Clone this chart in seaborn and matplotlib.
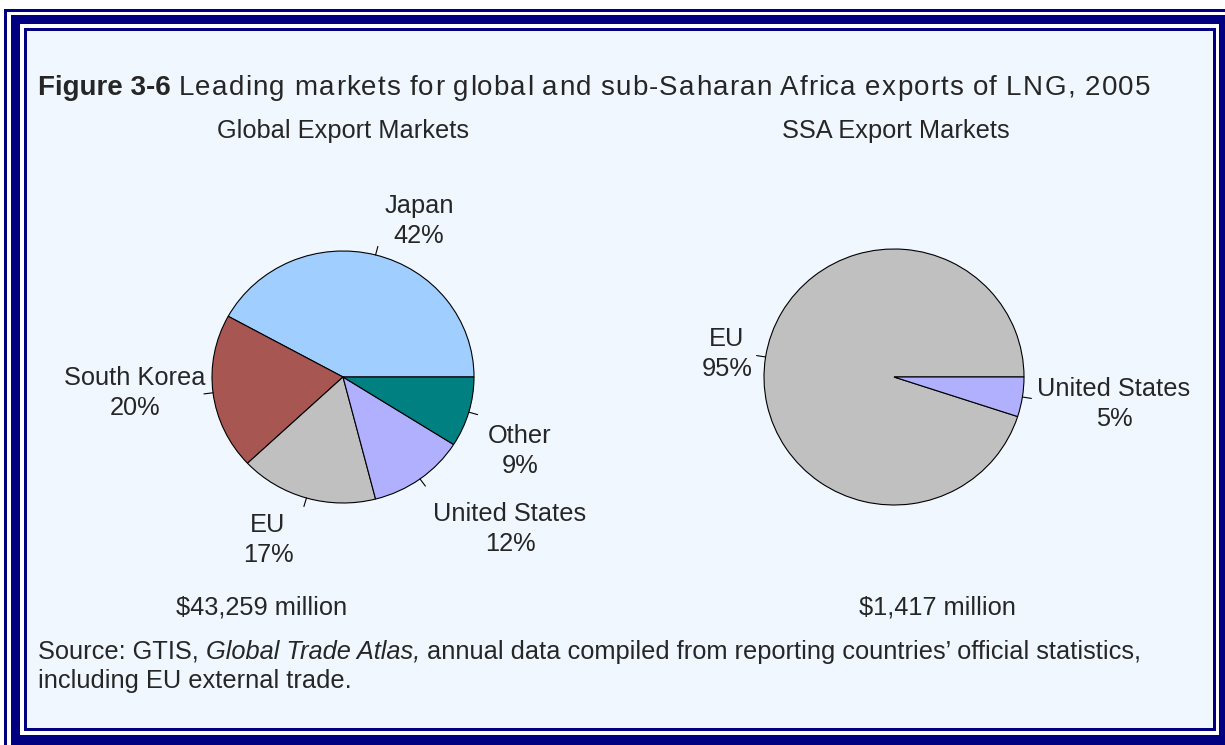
import matplotlib
matplotlib.use("Agg")
import matplotlib.pyplot as plt
import matplotlib.patches as mpatches
import numpy as np
import seaborn as sns

# ---------------- data ----------------
global_labels = ["Japan", "South Korea", "EU", "United States", "Other"]
global_values = [42, 20, 17, 12, 9]
ssa_labels = ["EU", "United States"]
ssa_values = [95, 5]
global_total = "$43,259 million"
ssa_total = "$1,417 million"

title_bold = "Figure 3-6"
title_rest = "Leading markets for global and sub-Saharan Africa exports of LNG, 2005"
sub_global = "Global Export Markets"
sub_ssa = "SSA Export Markets"

# ---------------- style ----------------
sns.set_theme(style="white")
plt.rcParams["font.family"] = ["Liberation Sans", "DejaVu Sans"]

W, H = 1225, 745
BG = "#F0F7FF"
NAVY = "#000080"
global_colors = ["#A0CFFF", "#A85652", "#C0C0C0", "#B0B0FF", "#008080"]
ssa_colors = ["#C0C0C0", "#B0B0FF"]
FS = 18.3
TFS = 20
LS = 1.3

fig = plt.figure(figsize=(W / 100, H / 100), dpi=100)
fig.patch.set_facecolor("white")


def frect(x0, y0, x1, y1, color):
    fig.patches.append(mpatches.Rectangle((x0 / W, 1 - y1 / H), (x1 - x0) / W, (y1 - y0) / H,
                                          transform=fig.transFigure, facecolor=color,
                                          edgecolor="none", zorder=-10))


# border layers
frect(4, 9, 1240, 760, NAVY)
frect(7, 12, 1240, 760, "white")
frect(11, 15, 1240, 760, NAVY)
frect(20, 24, 1219, 735, "white")
frect(24, 28, 1216, 731, NAVY)
frect(27, 31, 1213, 728, BG)

renderer = fig.canvas.get_renderer()


def ftext(x, y, s, **kw):
    kw.setdefault("fontsize", FS)
    kw.setdefault("ha", "center")
    kw.setdefault("va", "center")
    return fig.text(x / W, 1 - y / H, s, **kw)


def text_width(s, **kw):
    t = fig.text(0, 0, s, **kw)
    w = t.get_window_extent(renderer).width
    t.remove()
    return w


def tracked_text(x0, x1, y, s, **kw):
    """Draw s from x0 so that it ends at x1 by spreading the letters (letter-spacing)."""
    full = text_width(s, **kw)
    k = (x1 - x0) / full
    for i, ch in enumerate(s):
        if ch == " ":
            continue
        left = text_width(s[:i + 1], **kw) - text_width(ch, **kw)
        ftext(x0 + left * k, y, ch, ha="left", **kw)


# title
t1 = ftext(38, 88, title_bold, ha="left", fontweight="bold", fontsize=TFS)
bb = t1.get_window_extent(renderer)
space = text_width("a a", fontsize=TFS) - text_width("aa", fontsize=TFS)
tracked_text(bb.x1 + space, 1152, 88, title_rest, fontsize=TFS)

ftext(343, 131, sub_global)
ftext(896, 131, sub_ssa)
ftext(262, 607, global_total)
ftext(937, 607, ssa_total)

# source
s1 = ftext(38, 652, "Source: GTIS, ", ha="left")
bb = s1.get_window_extent(renderer)
s2 = ftext(bb.x1, 652, "Global Trade Atlas,", ha="left", fontstyle="italic")
bb = s2.get_window_extent(renderer)
ftext(bb.x1, 652, " annual data compiled from reporting countries\u2019 official statistics,", ha="left")
ftext(38, 681, "including EU external trade.", ha="left")


def pie_axes(cx, cy, rx, ry):
    return fig.add_axes([(cx - rx) / W, 1 - (cy + ry) / H, 2 * rx / W, 2 * ry / H])


def draw_pie(ax, values, colors):
    wedges, _ = ax.pie(values, colors=colors, startangle=0, counterclock=True,
                       wedgeprops=dict(edgecolor="black", linewidth=0.8))
    ax.set_aspect("auto")
    ax.set_xlim(-1, 1)
    ax.set_ylim(-1, 1)
    ax.axis("off")
    for w in wedges:
        mid = np.deg2rad((w.theta1 + w.theta2) / 2)
        ax.plot([np.cos(mid) * 1.0, np.cos(mid) * 1.07], [np.sin(mid) * 1.0, np.sin(mid) * 1.07],
                color="black", lw=0.8, clip_on=False)
    return wedges


# left pie
axL = pie_axes(343, 377, 131, 126)
draw_pie(axL, global_values, global_colors)
left_label_pos = [(419, 221), (135, 393), (268, 540), (510, 529), (520, 451)]
for lab, val, (x, y) in zip(global_labels, global_values, left_label_pos):
    ftext(x, y, f"{lab}\n{val}%", linespacing=LS)

# right pie
axR = pie_axes(894, 377, 130, 128)
draw_pie(axR, ssa_values, ssa_colors)
right_label_pos = [(727, 354), (1114, 404)]
for lab, val, (x, y) in zip(ssa_labels, ssa_values, right_label_pos):
    ftext(x, y, f"{lab}\n{val}%", linespacing=LS)

fig.savefig("out.png", dpi=100, facecolor="white")
